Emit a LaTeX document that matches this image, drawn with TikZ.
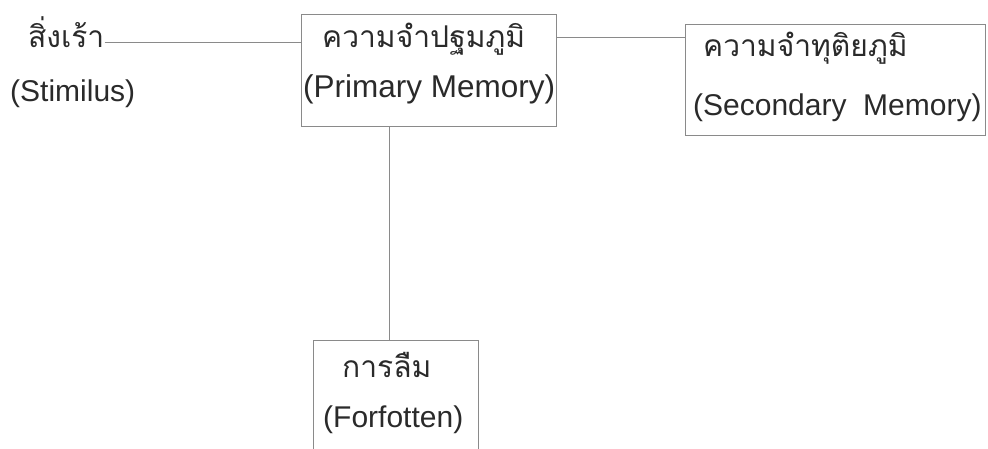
\documentclass[tikz,border=0pt]{standalone}
\usepackage{fontspec}
\setmainfont{Liberation Sans}
\newfontfamily\thaifont[Script=Thai]{Loma}
\usetikzlibrary{calc}
\definecolor{ink}{HTML}{2A2A2A}
\definecolor{rule}{HTML}{8A8A8A}
\begin{document}
\begin{tikzpicture}[x=1pt,y=-1pt,
  box/.style={draw=rule,line width=0.9pt,inner sep=0pt},
  th/.style={font=\thaifont\fontsize{30}{36}\selectfont,text=ink,inner sep=0pt},
  en/.style={font=\fontsize{30}{36}\selectfont,text=ink,inner sep=0pt},
  conn/.style={draw=rule,line width=0.9pt}]
\useasboundingbox (0,0) rectangle (988,449);
% boxes
\node[box,minimum width=255pt,minimum height=112pt] (prim) at (428.5,70) {};
\node[box,minimum width=300pt,minimum height=111pt] (sec) at (835,79.5) {};
\node[box,minimum width=165pt,minimum height=130pt] (forg) at (395.5,405) {};
% texts
\node[th,anchor=base west] (stim) at (28,48) {สิ่งเร้า};
\node[en,anchor=base west] (stimen) at (10,102) {(Stimilus)};
\node[th,anchor=base west] (primth) at (322,48) {ความจำปฐมภูมิ};
\node[en,anchor=base west,font=\fontsize{31.5}{36}\selectfont] (primen) at (303,98) {(Primary Memory)};
\node[th,anchor=base west] (secth) at (703,57) {ความจำทุติยภูมิ};
\node[en,anchor=base west] (secen) at (693,116) {(Secondary\ \ Memory)};
\node[th,anchor=base west] (forgth) at (342,377) {การลืม};
\node[en,anchor=base west] (forgen) at (323,427) {(Forfotten)};
% connectors
\coordinate (s1) at ($(stim.base east)+(0,-6)$);
\draw[conn] (s1) -- (s1 -| prim.west);
\coordinate (p1) at ($(prim.north east)+(0,24)$);
\draw[conn] (p1) -- (p1 -| sec.west);
\coordinate (f1) at ($(forg.north)+(-6.5,0)$);
\draw[conn] (f1 |- prim.south) -- (f1);
\end{tikzpicture}
\end{document}
